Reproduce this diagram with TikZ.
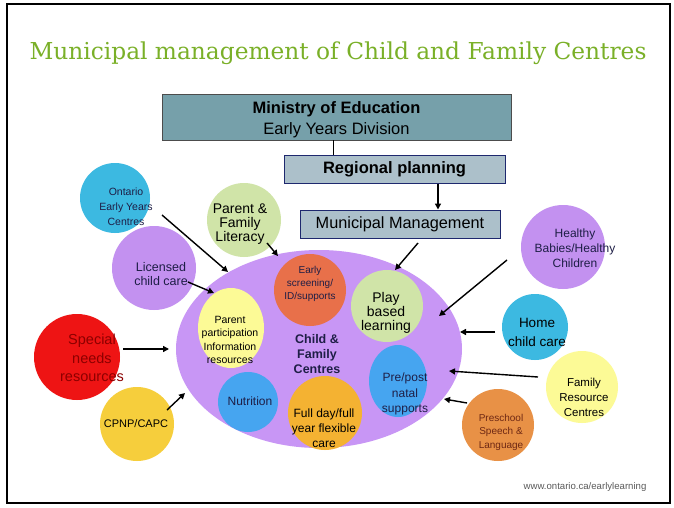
\documentclass[tikz,border=0pt]{standalone}
\usepackage{fontspec}
\setmainfont{Liberation Sans}
\newfontfamily\titlefont{DejaVu Serif}
\usetikzlibrary{arrows.meta,shapes.geometric}

\definecolor{titlegreen}{RGB}{122,176,40}
\definecolor{ministryfill}{RGB}{118,160,170}
\definecolor{planfill}{RGB}{172,192,202}
\definecolor{planborder}{RGB}{30,40,110}
\definecolor{lav}{RGB}{200,150,245}
\definecolor{lavout}{RGB}{195,145,240}
\definecolor{screenred}{RGB}{232,112,74}
\definecolor{palegreen}{RGB}{208,228,168}
\definecolor{paleyellow}{RGB}{252,250,150}
\definecolor{skyblue}{RGB}{70,165,240}
\definecolor{amber}{RGB}{244,178,50}
\definecolor{cyanblue}{RGB}{60,185,225}
\definecolor{brightred}{RGB}{238,20,20}
\definecolor{gold}{RGB}{246,206,60}
\definecolor{speechorange}{RGB}{232,145,70}
\definecolor{navytext}{RGB}{30,30,70}
\definecolor{darkred}{RGB}{140,0,0}
\definecolor{browntext}{RGB}{110,40,20}
\definecolor{urlgray}{RGB}{90,90,90}

\tikzset{
  fs/.style 2 args={font={\fontsize{#1}{#2}\selectfont}},
  headbox/.style={draw=black!70, line width=0.8pt, fill=ministryfill, align=center, inner sep=0pt},
  planbox/.style={draw=planborder, line width=1pt, fill=planfill, align=center, inner sep=0pt},
  bubble/.style={circle, draw=none, inner sep=0pt},
  oval/.style={ellipse, draw=none, inner sep=0pt},
  txt/.style={align=center, inner sep=0pt, text=#1},
  txt/.default=black,
  arr/.style={line width=1.4pt, -{Triangle[length=6pt,width=6pt]}},
}

\begin{document}
\begin{tikzpicture}[x=1pt,y=-1pt]
\useasboundingbox (0,0) rectangle (674,508);
\fill[white] (0,0) rectangle (674,508);
\draw[line width=2pt] (7,4) rectangle (670,503);

% heading
\node[text=titlegreen, font={\titlefont\fontsize{23.3}{28}\selectfont}] (title) at (338,53) {Municipal management of Child and Family Centres};

% governance boxes
\node[headbox, minimum width=349, minimum height=46] (ministry) at (336.5,117) {};
\node[txt=black, fs={16.5}{21}] (ministry-t) at (336.5,119.5) {\textbf{Ministry of Education}\\Early Years Division};
\node[planbox, fs={16.5}{18}, minimum width=221, minimum height=28] (regional) at (394.5,169)
  {\textbf{Regional planning}};
\node[planbox, fs={16.3}{18}, minimum width=200, minimum height=28] (municipal) at (400,224)
  {Municipal Management};

\draw[line width=0.8pt] ([xshift=-3.5pt]ministry.south) -- ++(0,15) coordinate (minlink);
\draw[arr] ([xshift=43.5pt]regional.south) -- ([xshift=38pt]municipal.north);

% central hub
\node[oval, fill=lav, minimum width=286, minimum height=198] (cfc) at (319,349) {};

% services inside the hub
\node[bubble, fill=screenred, minimum size=72] (screen) at (310,290) {};
\node[txt=navytext, fs={10}{13}] (screen-t) at (310,284) {Early\\screening/\\ID/supports};

\node[bubble, fill=palegreen, minimum size=72] (play) at (387,306) {};
\node[txt=black, fs={14}{14}] (play-t) at (386,313) {Play\\based\\learning};

\node[oval, fill=paleyellow, minimum width=66, minimum height=80] (parent) at (231,328) {};
\node[txt=black, fs={10.5}{13.3}] (parent-t) at (230,340) {Parent\\participation\\Information\\resources};

\node[txt=navytext, fs={12.5}{14.7}] (cfc-t) at (317,354) {\textbf{Child \&}\\\textbf{Family}\\\textbf{Centres}};

\node[bubble, fill=skyblue, minimum size=60] (nutrition) at (248,402) {};
\node[txt=navytext, fs={12}{14}] (nutrition-t) at (250,401) {Nutrition};

\node[bubble, fill=amber, minimum size=74] (fullday) at (325,413) {};
\node[txt=black, fs={12}{15}] (fullday-t) at (324,428) {Full day/full\\year flexible\\care};

\node[oval, fill=skyblue, minimum width=58, minimum height=72] (natal) at (398,381) {};
\node[txt=navytext, fs={12}{15.5}] (natal-t) at (405,394) {Pre/post\\natal\\supports};

% partner programs around the hub
\node[bubble, fill=cyanblue, minimum size=70] (oeyc) at (115,198) {};
\node[txt=navytext, fs={10.5}{15}] (oeyc-t) at (126,207) {Ontario\\Early Years\\Centres};

\node[bubble, fill=palegreen, minimum size=74] (literacy) at (244,220) {};
\node[txt=black, fs={14}{14}] (literacy-t) at (240,224) {Parent \&\\Family\\Literacy};

\node[bubble, fill=lavout, minimum size=84] (licensed) at (154,268) {};
\node[txt=navytext, fs={12.5}{14}] (licensed-t) at (161,274) {Licensed\\child care};

\node[bubble, fill=brightred, minimum size=86] (special) at (77,357) {};
\node[txt=darkred, fs={14.5}{18.5}] (special-t) at (92,358) {Special\\needs\\resources};

\node[bubble, fill=gold, minimum size=74] (cpnp) at (137,424) {};
\node[txt=black, fs={11}{13}] (cpnp-t) at (136,424) {CPNP/CAPC};

\node[bubble, fill=lavout, minimum size=84] (healthy) at (563,247) {};
\node[txt=navytext, fs={12}{15}] (healthy-t) at (575,248) {Healthy\\Babies/Healthy\\Children};

\node[bubble, fill=cyanblue, minimum size=66] (home) at (535,327) {};
\node[txt=black, fs={13.5}{19}] (home-t) at (537,332) {Home\\child care};

\node[bubble, fill=paleyellow, minimum size=72] (frc) at (582,387) {};
\node[txt=black, fs={11.5}{15}] (frc-t) at (584,397) {Family\\Resource\\Centres};

\node[bubble, fill=speechorange, minimum size=72] (speech) at (498,425) {};
\node[txt=browntext, fs={10}{13.5}] (speech-t) at (501,432) {Preschool\\Speech \&\\Language};

\node[font=\fontsize{9.6}{11}\selectfont, text=urlgray] (url) at (585,487) {www.ontario.ca/earlylearning};

% arrow end points
\coordinate (a1s) at (162,215); \coordinate (a1e) at (228,272);
\coordinate (a2s) at (267,243); \coordinate (a2e) at (278,256);
\coordinate (a3s) at (188,282); \coordinate (a3e) at (214,293);
\coordinate (a4s) at (123,349); \coordinate (a4e) at (169,349);
\coordinate (a5s) at (167,410); \coordinate (a5e) at (185,393);
\coordinate (a6s) at (418,243); \coordinate (a6e) at (395,270);
\coordinate (a7s) at (507,260); \coordinate (a7e) at (439,316);
\coordinate (a8s) at (495,332); \coordinate (a8e) at (460,332);
\coordinate (a9s) at (538,377); \coordinate (a9e) at (449,371);
\coordinate (a10s) at (467,403); \coordinate (a10e) at (444,399);

\draw[arr] (a1s) -- (a1e);
\draw[arr] (a2s) -- (a2e);
\draw[arr] (a3s) -- (a3e);
\draw[arr] (a4s) -- (a4e);
\draw[arr] (a5s) -- (a5e);
\draw[arr] (a6s) -- (a6e);
\draw[arr] (a7s) -- (a7e);
\draw[arr] (a8s) -- (a8e);
\draw[arr] (a9s) -- (a9e);
\draw[arr] (a10s) -- (a10e);
\end{tikzpicture}
\end{document}
